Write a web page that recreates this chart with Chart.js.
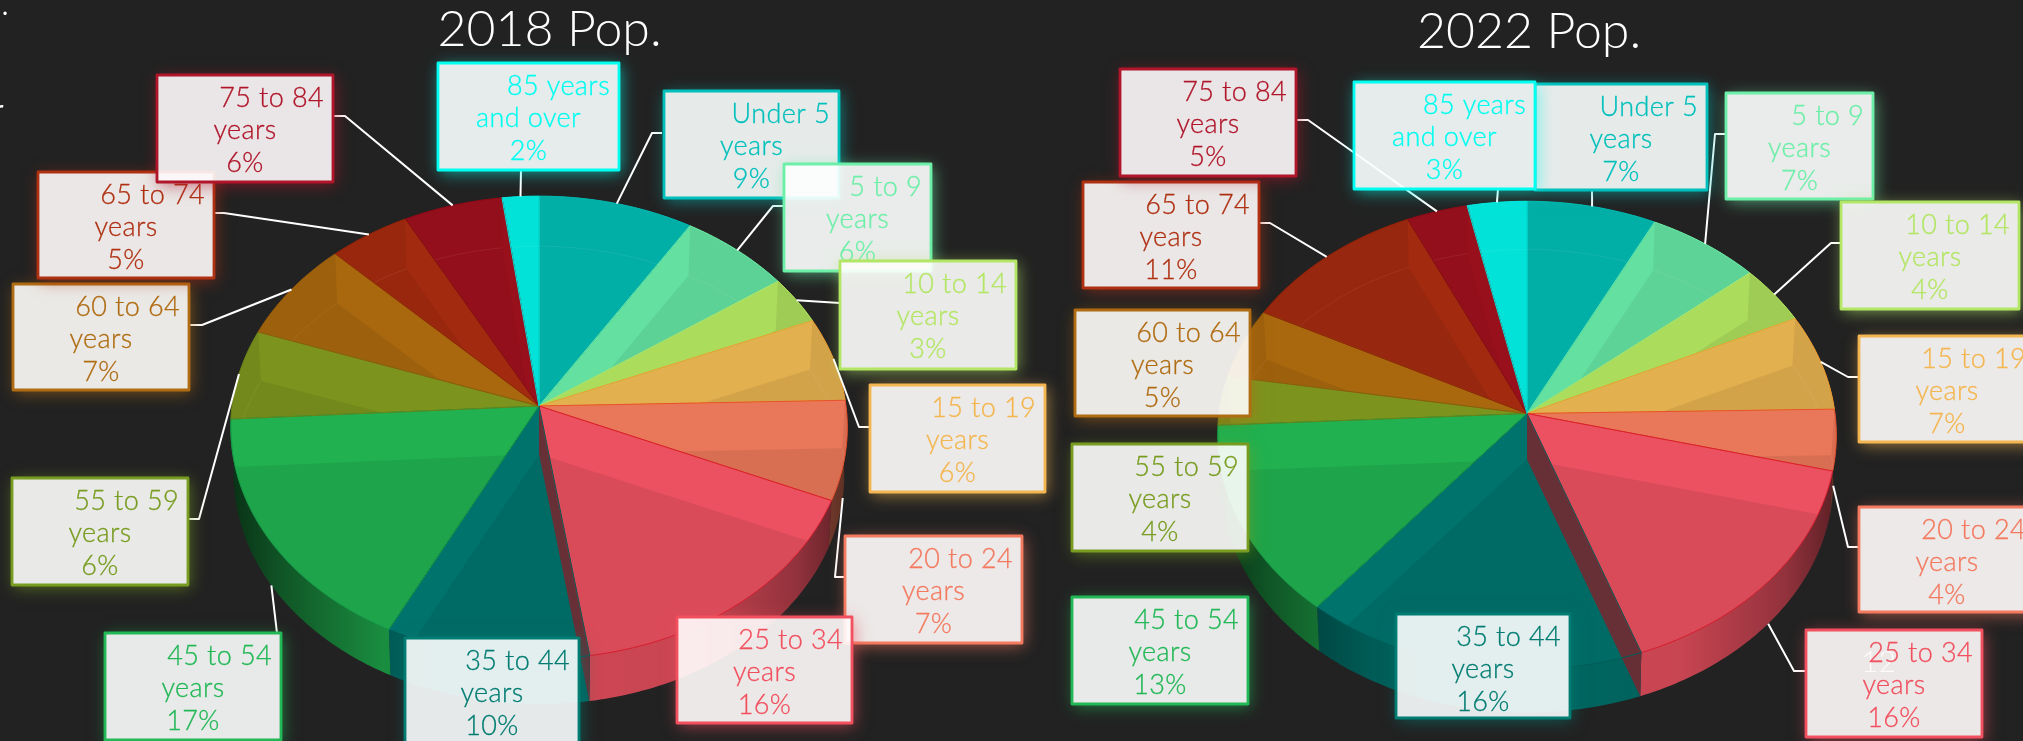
<!DOCTYPE html>
<html>
<head>
<meta charset="utf-8">
<script src="https://cdn.jsdelivr.net/npm/chart.js@4"></script>
<style>
html,body{margin:0;padding:0;background:#222222;width:2023px;height:741px;overflow:hidden}
.w{position:absolute;top:0;height:741px}
</style>
</head>
<body>
<div class="w" style="left:0;width:1099px"><canvas id="c18"></canvas></div>
<div class="w" style="left:1035px;width:988px"><canvas id="c22"></canvas></div>
<script>
// ---- data ----
const categories = ['Under 5 years','5 to 9 years','10 to 14 years','15 to 19 years','20 to 24 years','25 to 34 years','35 to 44 years','45 to 54 years','55 to 59 years','60 to 64 years','65 to 74 years','75 to 84 years','85 years and over'];
const pop2018 = [8.9,6.4,3.4,5.9,6.9,16.1,9.8,16.7,6.3,7.1,4.7,5.7,2.1];
const pop2022 = [7.4,6.5,4.1,6.7,4.2,15.6,16.4,13.3,3.4,4.9,10.6,3.5,3.4];
// percentages as printed on the labels
const printed2018 = [9,6,3,6,7,16,10,17,6,7,5,6,2];
const printed2022 = [7,7,4,7,4,16,16,13,4,5,11,5,3];
// ---- style ----
const faceColors = ['#03B4AB','#64E0A0','#ABDC5C','#E3B04F','#E97759','#EB5160','#00736D','#21B150','#7C941E','#A9680E','#A22A0F','#98101C','#03E6DC'];
const edgeColors = ['#02B8B0','#6CE8A4','#B6E45E','#EE9A30','#E8502F','#DC1F30','#005F5A','#159A48','#6A8518','#96590A','#8F2209','#8A0C18','#03E6DC'];
const textColors = ['#00C0BC','#6CEFA8','#B4E666','#F4B650','#F47A60','#F2505E','#017C72','#22B856','#789C20','#B06C12','#B03012','#B0152A','#00FFF0'];
// ---- layout: label boxes [x,y,w,h], page coordinates ----
const boxes2018 = [[664,91,175,107],[784,164,147,107],[840,261,176,108],[870,385,175,107],[845,536,177,107],[677,617,175,106],[405,638,174,107],[105,633,176,107],[12,478,176,107],[13,284,176,106],[38,172,176,106],[157,75,176,107],[438,63,181,107]];
const boxes2022 = [[1535,84,172,106],[1726,93,147,106],[1841,202,178,107],[1859,336,176,106],[1859,507,176,105],[1806,630,176,107],[1396,614,174,104],[1072,597,176,107],[1072,444,176,107],[1075,310,175,106],[1083,182,176,106],[1120,69,176,107],[1354,82,181,107]];
// leader start and elbow [x0,y0,x1,y1]; the far end is found on the pie rim
const leaders2018 = [[662,133,652,133],[784,206,773,206],[840,303,840,303],[870,427,859,427],[845,577,835,577],null,null,[277,633,277,633],[189,519,199,519],[189,325,202,325],[214,213,224,213],[333,116,345,116],[521,170,521,170]];
const leaders2022 = [[1592,190,1592,190],[1726,134,1715,134],[1841,243,1831,243],[1859,377,1848,377],[1859,547,1848,547],[1806,671,1794,671],null,null,null,null,[1259,223,1270,223],[1297,120,1308,120],[1498,189,1498,189]];

const FONT = 'Lato, "Open Sans", sans-serif';
function rgb(h){return [1,3,5].map(i=>parseInt(h.substr(i,2),16));}
function shade(h,f){return 'rgb('+rgb(h).map(c=>Math.round(c*f)).join(',')+')';}
function rgba(h,a){return 'rgba('+rgb(h).join(',')+','+a+')';}

const pie3d = {
  id:'pie3d',
  beforeDatasetDraw(chart,args,o){
    const ctx=chart.ctx, arcs=chart.getDatasetMeta(0).data;
    const cx=arcs[0].x+o.dx, cy=arcs[0].y, R=arcs[0].outerRadius;
    const P=(t,f,low)=>{ // t: chart angle, f: radial fraction, low: bottom face
      const u=Math.cos(t)*f, v=Math.sin(t)*f, d=1-o.k*v;
      let x=R*u/d, y=R*o.tilt*v/d;
      if(low){x*=0.99;y=y*0.99+o.depth;}
      return [cx+x,cy+y];
    };
    chart.$P=P;
    const arcTo=(a0,a1,low)=>{
      const n=Math.max(4,Math.ceil(Math.abs(a1-a0)*60));
      for(let i=0;i<=n;i++){const p=P(a0+(a1-a0)*i/n,1,low);ctx.lineTo(p[0],p[1]);}
    };
    const face=(a0,a1,low)=>{
      ctx.beginPath(); const c=P(a0,0,low); ctx.moveTo(c[0],c[1]);
      arcTo(a0,a1,low); ctx.closePath();
    };
    ctx.save();
    ctx.lineJoin='round';
    // outer wall
    arcs.forEach(a=>{
      ctx.beginPath();
      arcTo(a.startAngle,a.endAngle,false);
      arcTo(a.endAngle,a.startAngle,true);
      ctx.closePath();
      const col=a.options.backgroundColor;
      const g=ctx.createLinearGradient(cx-R,0,cx+R,0);
      g.addColorStop(0,shade(col,.28));g.addColorStop(.08,shade(col,.48));g.addColorStop(.25,shade(col,.8));
      g.addColorStop(.5,shade(col,.88));g.addColorStop(.75,shade(col,.85));g.addColorStop(.92,shade(col,.62));g.addColorStop(1,shade(col,.4));
      ctx.fillStyle=g;ctx.fill();
    });
    // top faces, darker everywhere but the band left open by the radial walls
    arcs.forEach(a=>{
      const col=a.options.backgroundColor, a0=a.startAngle, a1=a.endAngle;
      face(a0,a1,false);ctx.fillStyle=col;ctx.fill();
      const m=(a0+a1)/2+Math.PI/2, off=Math.min(m,2*Math.PI-m)*180/Math.PI;
      const alpha=.01+.06*Math.min(1,off/50);
      ctx.save();
      face(a0,a1,false);ctx.clip();
      ctx.beginPath();
      let p=P(a0,0,true);ctx.moveTo(p[0],p[1]);
      p=P(a0,1,true);ctx.lineTo(p[0],p[1]);
      arcTo(a0,a1,false);
      p=P(a1,1,true);ctx.lineTo(p[0],p[1]);
      ctx.closePath();
      ctx.fillStyle='rgba(0,0,0,'+alpha+')';ctx.fill();
      // bottom rim seen through the face
      ctx.beginPath();
      p=P(a0,1,true);ctx.moveTo(p[0],p[1]);arcTo(a0,a1,true);
      ctx.strokeStyle='rgba(255,255,255,.07)';ctx.lineWidth=1;ctx.stroke();
      ctx.restore();
    });
    // radial wall seen through the front slices
    arcs.forEach(a=>{
      const deg=(a.endAngle+Math.PI/2)*180/Math.PI;
      if(deg>120&&deg<180){
        const p=[P(a.endAngle,0,false),P(a.endAngle,1,false),P(a.endAngle,1,true),P(a.endAngle,0,true)];
        ctx.beginPath();p.forEach((q,j)=>j?ctx.lineTo(q[0],q[1]):ctx.moveTo(q[0],q[1]));ctx.closePath();
        ctx.fillStyle=rgba('#6C2C34',.95);ctx.fill();
      }
    });
    // edges
    arcs.forEach(a=>{
      face(a.startAngle,a.endAngle,false);
      ctx.strokeStyle=a.options.borderColor;ctx.lineWidth=1;ctx.stroke();
    });
    ctx.restore();
    return false;
  },
  afterDatasetsDraw(chart,args,o){
    const ctx=chart.ctx, arcs=chart.getDatasetMeta(0).data, P=chart.$P, ox=o.left;
    ctx.save();
    ctx.translate(-ox,0);
    // leaders
    ctx.strokeStyle='#FFFFFF';ctx.lineWidth=2;ctx.lineJoin='round';
    o.leaders.forEach((l,i)=>{
      if(!l)return;
      const a=arcs[i], m=(a.startAngle+a.endAngle)/2;
      const p=P(m,1,Math.sin(m)>0.1);
      ctx.beginPath();ctx.moveTo(l[0],l[1]);ctx.lineTo(l[2],l[3]);ctx.lineTo(p[0]+ox,p[1]);ctx.stroke();
    });
    if(o.ghost){ctx.fillStyle='#FFFFFF';ctx.font='300 30px '+FONT;ctx.textAlign='left';ctx.textBaseline='alphabetic';ctx.fillText(o.ghost,1861,672);}
    // label boxes
    o.boxes.forEach((b,i)=>{
      const [x,y,w,h]=b, col=textColors[i];
      ctx.save();
      ctx.beginPath();ctx.rect(-10,-10,3000,900);ctx.rect(x,y,w,h);ctx.clip('evenodd');
      ctx.shadowColor=rgba(col,.6);ctx.shadowBlur=15;ctx.shadowOffsetX=2;ctx.shadowOffsetY=3;
      ctx.fillStyle=col;ctx.fillRect(x,y,w,h);
      ctx.restore();
      ctx.fillStyle='rgba(255,255,255,.915)';ctx.fillRect(x,y,w,h);
      ctx.fillStyle=rgba(col,.025);ctx.fillRect(x,y,w,h);
      ctx.strokeStyle=col;ctx.lineWidth=2.8;ctx.strokeRect(x,y,w,h);
      const m=categories[i].match(/^(.*) (years|and over)$/);
      ctx.fillStyle=col;ctx.strokeStyle=col;ctx.lineWidth=.3;ctx.font='300 27px '+FONT;ctx.textBaseline='alphabetic';
      if('letterSpacing' in ctx)ctx.letterSpacing='0.4px';
      const put=(s,tx,ty)=>{ctx.fillText(s,tx,ty);ctx.strokeText(s,tx,ty);};
      ctx.textAlign='right';put(m[1],x+w-9,y+32);
      ctx.textAlign='center';put(m[2],x+w/2,y+64);
      put(o.printed[i]+'%',x+w/2,y+97);
      if('letterSpacing' in ctx)ctx.letterSpacing='0px';
    });
    // clipped scraps of neighbouring text at the left edge
    if(o.scraps){ctx.fillStyle='#FFFFFF';ctx.font='400 26px '+FONT;ctx.textAlign='left';ctx.fillText('.',2,15);ctx.fillText('r',-6,119);}
    ctx.restore();
  }
};

function makeChart(id,title,values,opt){
  return new Chart(document.getElementById(id),{
    type:'pie',
    data:{labels:categories,datasets:[{data:values,backgroundColor:faceColors,borderColor:edgeColors,borderWidth:0}]},
    plugins:[pie3d],
    options:{
      responsive:true,maintainAspectRatio:false,animation:false,
      layout:{padding:opt.padding},
      events:[],
      plugins:{
        legend:{display:false},tooltip:{enabled:false},
        title:{display:true,text:title,color:'#FFFFFF',font:{family:FONT,size:50,weight:'300',lineHeight:1.2},padding:opt.titlePad},
        pie3d:{k:0.0927,tilt:opt.tilt,depth:opt.depth,left:opt.left,dx:opt.dx,boxes:opt.boxes,leaders:opt.leaders,printed:opt.printed,ghost:opt.ghost,scraps:opt.scraps}
      }
    }
  });
}
makeChart('c18','2018 Pop.',pop2018,{padding:{left:242.5,right:242.5,top:0,bottom:28},titlePad:{top:0,bottom:39},tilt:0.747,depth:48,left:0,dx:-10.5,boxes:boxes2018,leaders:leaders2018,printed:printed2018,scraps:true});
makeChart('c22','2022 Pop.',pop2022,{padding:{left:186,right:186,top:0,bottom:19.5},titlePad:{top:2,bottom:43.5},tilt:0.753,depth:46,left:1035,dx:-2,boxes:boxes2022,leaders:leaders2022,printed:printed2022,ghost:'12'});
</script>
</body>
</html>
